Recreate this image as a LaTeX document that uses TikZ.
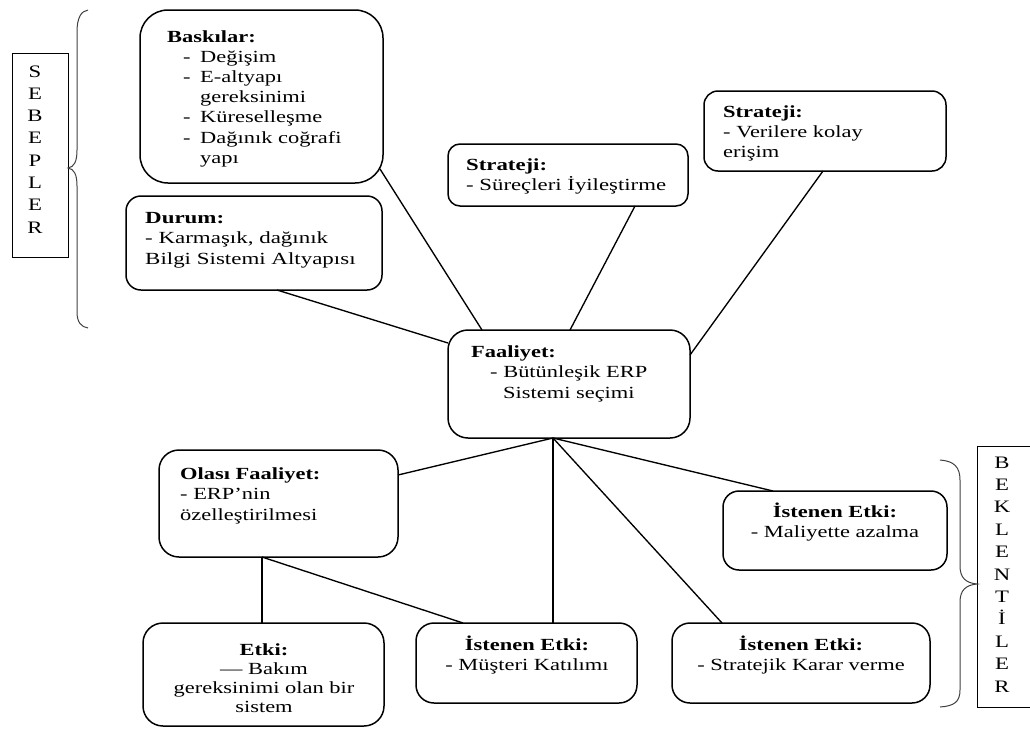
\documentclass[tikz,border=0pt]{standalone}
\usepackage{fontspec}
\setmainfont{Liberation Serif}
\usepackage{graphicx}

% text block: horizontal stretch, column spec, rows
\newcommand\tb[3]{\scalebox{#1}[1]{\begin{tabular}[t]{@{}#2@{}}#3\end{tabular}}}
% list dash with a hanging indent
\newcommand\dsh[1]{\hspace*{#1}\makebox[12.9pt][l]{-}}

\begin{document}
\begin{tikzpicture}[x=1pt,y=-1pt,
  box/.style={draw, line width=1.5pt, rounded corners=#1, anchor=north west,
              inner sep=0pt, outer sep=0pt},
  box/.default=16pt,
  frame/.style={draw, line width=1pt, anchor=north west, inner sep=0pt, outer sep=0pt},
  txt/.style={inner sep=0pt, font=\fontsize{17}{#1}\selectfont},
  txt/.default=20.2,
  letters/.style={inner sep=0pt, font=\fontsize{17.5}{#1}\selectfont},
  link/.style={line width=1.35pt},
  brace/.style={line width=1pt, draw=black!75}]
\useasboundingbox (0,0) rectangle (1030,729);

% ---------- side labels ----------
\node[frame, minimum width=56pt, minimum height=204pt] (seb) at (12,53) {};
\node[letters=22.3, anchor=base] (sebT) at (35,77)
  {\tb{1.3}{c}{S\\E\\B\\E\\P\\L\\E\\R}};

\node[frame, draw=none, minimum width=60pt, minimum height=261pt] (bek) at (977,446) {};
\draw[line width=1pt] (bek.north east) -- (bek.north west) -- (bek.south west) -- (bek.south east);
\node[letters=22.4, anchor=base] (bekT) at (1002,468)
  {\tb{1.3}{c}{B\\E\\K\\L\\E\\N\\T\\İ\\L\\E\\R}};

% ---------- braces ----------
\draw[brace] (88,10) .. controls (81,11) and (77,18) .. (77,32) -- (77,150)
  .. controls (77,162) and (74,167) .. (68,168)
  .. controls (74,169) and (77,174) .. (77,186) -- (77,312)
  .. controls (77,322) and (81,327) .. (88,328);
\draw[brace] (940,460) .. controls (954,461) and (960,467) .. (960,480) -- (960,566)
  .. controls (960,578) and (966,583) .. (977,584)
  .. controls (966,585) and (960,590) .. (960,602) -- (960,690)
  .. controls (960,702) and (954,706) .. (940,707);

% ---------- boxes ----------
\node[box=28pt, minimum width=243pt, minimum height=173pt] (bask) at (140,10) {};
\node[txt, anchor=base west] (baskT) at (167,42)
  {\tb{1.32}{l}{\textbf{Baskılar:}\\
   \dsh{12.1pt}Değişim\\
   \dsh{12.1pt}E-altyapı\\
   \hspace*{25pt}gereksinimi\\
   \dsh{12.1pt}Küreselleşme\\
   \dsh{12.1pt}Dağınık coğrafi\\
   \hspace*{25pt}yapı}};

\node[box=15pt, minimum width=256pt, minimum height=94pt] (dur) at (126,196) {};
\node[txt=20.5, anchor=base west] (durT) at (145,223)
  {\tb{1.35}{l}{\textbf{Durum:}\\- Karmaşık, dağınık\\Bilgi Sistemi Altyapısı}};

\node[box=12pt, minimum width=240pt, minimum height=62pt] (st1) at (448,144) {};
\node[txt=20, anchor=base west] (st1T) at (466,170)
  {\tb{1.34}{l}{\textbf{Strateji:}\\- Süreçleri İyileştirme}};

\node[box=14pt, minimum width=242pt, minimum height=80pt] (st2) at (704,91) {};
\node[txt=20, anchor=base west] (st2T) at (723,117)
  {\tb{1.32}{l}{\textbf{Strateji:}\\- Verilere kolay\\erişim}};

\node[box=20pt, minimum width=242pt, minimum height=108pt] (fa) at (448,330) {};
\node[txt=20.5, anchor=base west] (faT) at (471,357)
  {\tb{1.32}{l}{\textbf{Faaliyet:}\\
   \hspace*{14.4pt}- Bütünleşik ERP\\
   \hspace*{24.2pt}Sistemi seçimi}};

\node[box=20pt, minimum width=239pt, minimum height=107pt] (ol) at (159,450) {};
\node[txt=20.5, anchor=base west] (olT) at (180,479)
  {\tb{1.32}{l}{\textbf{Olası Faaliyet:}\\- ERP’nin\\özelleştirilmesi}};

\node[box=20pt, minimum width=241pt, minimum height=103pt] (et) at (143,623) {};
\node[txt=19.3, anchor=base] (etT) at (264,655)
  {\tb{1.32}{c}{\textbf{Etki:}\\— Bakım\\gereksinimi olan bir\\sistem}};

\node[box=18pt, minimum width=221pt, minimum height=80pt] (mu) at (416,623) {};
\node[txt=20.5, anchor=base] (muT) at (527,650)
  {\tb{1.32}{c}{\textbf{İstenen Etki:}\\- Müşteri Katılımı}};

\node[box=16pt, minimum width=224pt, minimum height=79pt] (ma) at (723,491) {};
\node[txt=20, anchor=base] (maT) at (835,517)
  {\tb{1.32}{c}{\textbf{İstenen Etki:}\\- Maliyette azalma}};

\node[box=18pt, minimum width=258pt, minimum height=80pt] (sk) at (672,623) {};
\node[txt=20, anchor=base] (skT) at (801,650)
  {\tb{1.32}{c}{\textbf{İstenen Etki:}\\- Stratejik Karar verme}};

% ---------- connectors ----------
\coordinate (faJ) at ([xshift=105pt]fa.south west);
\coordinate (olJ) at ([xshift=103pt]ol.south west);

\draw[link] ([shift={(-3pt,14pt)}]bask.south east) -- ([xshift=34pt]fa.north west);
\draw[link] ([xshift=151pt]dur.south west) -- ([yshift=-13pt]fa.north west);
\draw[link] ([xshift=187pt]st1.south west) -- ([xshift=122pt]fa.north west);
\draw[link] ([xshift=119pt]st2.south west) -- ([yshift=-25pt]fa.north east);

\draw[link] (faJ) -- ([yshift=-25pt]ol.north east);
\draw[link] (faJ) -- ([xshift=137pt]mu.north west);
\draw[link] (faJ) -- ([xshift=50pt]sk.north west);
\draw[link] (faJ) -- ([xshift=50pt]ma.north west);

\draw[link] (olJ) -- ([xshift=119pt]et.north west);
\draw[link] (olJ) -- ([xshift=47pt]mu.north west);
\end{tikzpicture}
\end{document}
